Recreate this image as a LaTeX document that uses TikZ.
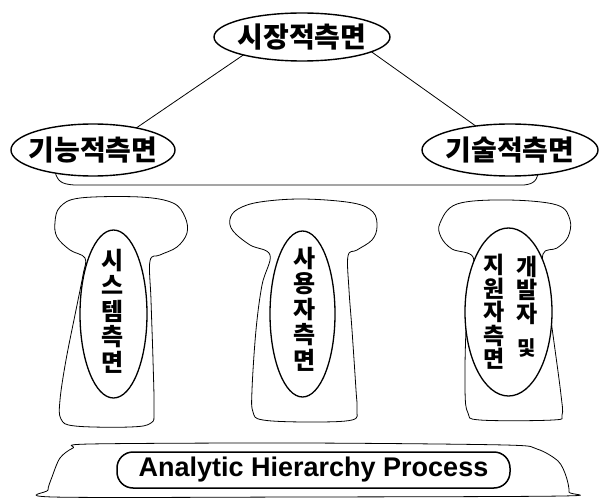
\documentclass[tikz,border=0pt]{standalone}
\usepackage{fontspec}
\setmainfont{Liberation Sans}
\newfontfamily\kr{Noto Sans CJK KR}
\usetikzlibrary{shapes.geometric}
\begin{document}
\begin{tikzpicture}[x=1pt,y=-1pt,
  aspect/.style={ellipse, draw, line width=1.4pt, fill=white, inner sep=0pt, outer sep=0pt},
  outline/.style={draw, line width=0.8pt, line join=round},
  hfont/.style={font=\kr\bfseries\fontsize{28}{32}\selectfont},
  vtext/.style={align=center, inner sep=0pt, font=\kr\bfseries\fontsize{24}{25.5}\selectfont},
  vtextr/.style={align=center, inner sep=0pt, font=\kr\bfseries\fontsize{23}{23.5}\selectfont},
]
\useasboundingbox (0,0) rectangle (600,500);

% tray under the two upper aspects
\draw[outline] (55,172) .. controls (58,182) and (62,184) .. (74,185)
  -- (524,185) .. controls (534,184) and (538,180) .. (538,170);

% upper aspects
\node[aspect, hfont, minimum width=176pt, minimum height=48pt] (market) at (302,37) {\makebox[0pt]{시장적측면}};
\node[aspect, hfont, minimum width=164pt, minimum height=52pt] (func) at (93,150) {\makebox[0pt]{기능적측면}};
\node[aspect, hfont, minimum width=176pt, minimum height=52pt] (tech) at (510,150) {\makebox[0pt]{기술적측면}};

\draw[outline] (market.197) -- (func.27);
\draw[outline] (market.348) -- (tech.145);

% pillars
\draw[outline] plot[smooth cycle, tension=0.6] coordinates {
  (85,258) (70,250) (57,237) (55,222) (60,207) (80,198) (140,197) (173,203)
  (185,217) (187,233) (177,247) (160,255) (150,261) (151,300) (153,360)
  (154,410) (151,423) (130,427) (75,426) (61,419) (60,400) (66,360) (76,310) (83,275)};
\draw[outline] plot[smooth cycle, tension=0.6] coordinates {
  (270,255) (250,245) (233,231) (230,219) (238,209) (260,202) (303,199) (353,203)
  (373,212) (377,227) (372,240) (357,250) (348,256) (349,290) (352,330) (356,390)
  (357,410) (352,420) (310,422) (263,420) (253,412) (252,390) (256,330) (262,285)};
\draw[outline] plot[smooth cycle, tension=0.6] coordinates {
  (473,257) (452,249) (441,237) (440,223) (457,204) (507,200) (557,205) (570,220)
  (568,237) (557,248) (543,254) (546,285) (553,335) (561,395) (562,415) (553,420)
  (480,420) (468,413) (465,390) (466,330) (470,285)};

% aspects on the pillars
\node[aspect, line width=1.3pt, minimum width=67pt, minimum height=168pt] (sys) at (113.5,314) {};
\node[aspect, line width=1.3pt, minimum width=65pt, minimum height=166pt] (user) at (302.5,314) {};
\node[aspect, line width=1.3pt, minimum width=87pt, minimum height=168pt] (dev) at (508.5,312) {};

\node[vtext] (sysT) at (113,311) {시\\스\\템\\측\\면};
\node[vtext] (userT) at (305,309) {사\\용\\자\\측\\면};
\node[vtextr] (devA) at (494,312) {지\\원\\자\\측\\면};
\node[vtextr] (devB) at (527,290) {개\\발\\자};
\node[inner sep=0pt, font=\kr\bfseries\fontsize{20}{22}\selectfont] (devC) at (527,348) {및};

% base platform
\draw[outline] plot[smooth cycle, tension=0.5] coordinates {
  (90,444) (300,443) (505,445) (537,449) (558,461) (566,476) (569,492)
  (562,496) (300,497) (53,497) (48,490) (52,477) (60,458) (73,448)};
\node[draw, line width=1.5pt, rounded corners=16pt, minimum width=393pt, minimum height=36pt,
  inner sep=0pt, font=\bfseries\fontsize{27}{30}\selectfont] (ahp) at (313.5,470) {Analytic Hierarchy Process};
\end{tikzpicture}
\end{document}
